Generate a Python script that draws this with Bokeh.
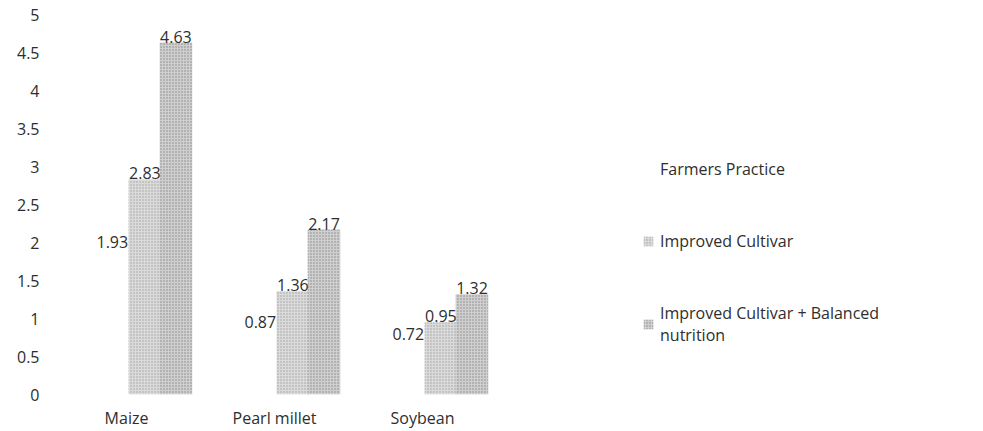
from bokeh.plotting import figure
from bokeh.models import (ColumnDataSource, Range1d, Legend, LegendItem,
                          FixedTicker, CustomJSTickFormatter)
from bokeh.transform import dodge
from bokeh.core.properties import value
from bokeh.embed import file_html
from bokeh.resources import INLINE

# ---- data ----
crops = ["Maize", "Pearl millet", "Soybean"]
farmers_practice = [1.93, 0.87, 0.72]
improved_cultivar = [2.83, 1.36, 0.95]
improved_balanced = [4.63, 2.17, 1.32]
series_names = ["Farmers Practice", "Improved Cultivar", "Improved Cultivar + Balanced\nnutrition"]
y_ticks = [0, 0.5, 1, 1.5, 2, 2.5, 3, 3.5, 4, 4.5, 5]

idx = list(range(len(crops)))
src = ColumnDataSource(dict(
    x=idx, crop=crops,
    fp=farmers_practice, ic=improved_cultivar, icb=improved_balanced,
    fp_lbl=[f"{v:.2f}" for v in farmers_practice],
    ic_lbl=[f"{v:.2f}" for v in improved_cultivar],
    icb_lbl=[f"{v:.2f}" for v in improved_balanced],
))

FONT = "Open Sans"
TXT = "#2e2e2e"

p = figure(width=983, height=431, x_range=Range1d(-0.446, 5.79),
           y_range=Range1d(0, 5), output_backend="svg", toolbar_location=None,
           min_border_left=60, min_border_right=0, min_border_top=14, min_border_bottom=27)
p.outline_line_color = None
p.grid.grid_line_color = None
p.background_fill_color = "white"
p.border_fill_color = "white"

# axes
for ax in (p.xaxis, p.yaxis):
    ax.axis_line_color = None
    ax.major_tick_line_color = None
    ax.minor_tick_line_color = None
    ax.major_label_text_font = FONT
    ax.major_label_text_font_size = "16px"
    ax.major_label_text_color = TXT
p.yaxis.ticker = FixedTicker(ticks=y_ticks)
p.yaxis.formatter = CustomJSTickFormatter(code="return tick.toString();")
p.yaxis.major_label_standoff = 15
p.xaxis.ticker = FixedTicker(ticks=idx)
p.xaxis.major_label_overrides = {i: c for i, c in zip(idx, crops)}
p.xaxis.major_label_standoff = 6

W = 0.22
offs = [-0.096, 0.124, 0.334]

r_fp = p.vbar(x=dodge("x", offs[0]), top="fp", width=W, source=src,
              fill_color="white", line_color=None)
r_ic = p.vbar(x=dodge("x", offs[1]), top="ic", width=W, source=src,
              fill_color="#dadada", line_color=None,
              hatch_pattern="dot", hatch_color="#707070", hatch_scale=3, hatch_alpha=0.55)
r_icb = p.vbar(x=dodge("x", offs[2]), top="icb", width=W, source=src,
               fill_color="#cfcfcf", line_color=None,
               hatch_pattern="dot", hatch_color="#555555", hatch_scale=3, hatch_alpha=0.6)

for off, col in zip(offs, ["fp", "ic", "icb"]):
    p.text(x=dodge("x", off), y=col, text=col + "_lbl", source=src,
           text_align="center", text_baseline="middle", y_offset=-6,
           text_font=value(FONT), text_font_size="16px", text_color=TXT)

legend = Legend(items=[LegendItem(label=series_names[0], renderers=[r_fp]),
                       LegendItem(label=series_names[1], renderers=[r_ic]),
                       LegendItem(label=series_names[2], renderers=[r_icb])],
                location=(582, 48), orientation="vertical",
                glyph_width=12, glyph_height=12, label_standoff=6, spacing=50,
                padding=0, margin=0, border_line_color=None, background_fill_alpha=0,
                label_text_font=FONT, label_text_font_size="16px", label_text_color=TXT)
p.add_layout(legend, "center")

open("out.html", "w").write(file_html(p, INLINE))
